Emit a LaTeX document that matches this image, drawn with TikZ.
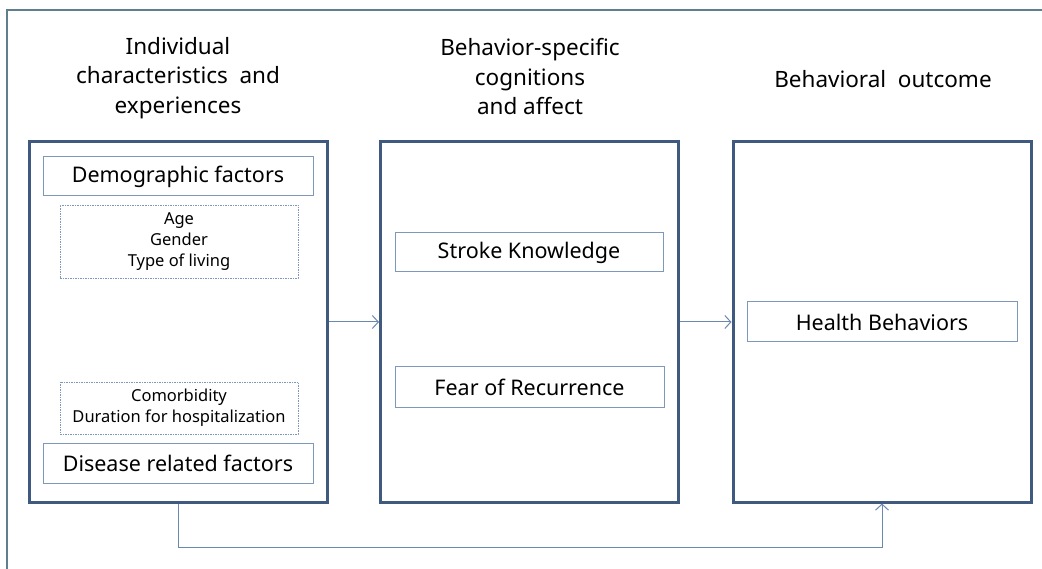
\documentclass[tikz,border=0pt]{standalone}
\usepackage{fontspec}
\setmainfont{Noto Sans}
\usetikzlibrary{arrows.meta}
\definecolor{thickc}{HTML}{3F5A7E}
\definecolor{thinc}{HTML}{7E98BC}
\definecolor{arrc}{HTML}{6B88B0}
\definecolor{framec}{HTML}{5F7F8F}
\tikzset{
  bigbox/.style={draw=thickc,line width=3pt,minimum width=298pt,minimum height=360pt,inner sep=0pt},
  factbox/.style={draw=thinc,line width=1pt,minimum width=270pt,minimum height=39pt,inner sep=0pt,font=\fontsize{21.5}{24}\selectfont},
  dashbox/.style={draw=thinc,line width=0.8pt,dash pattern=on 1.5pt off 1pt,minimum width=238pt,inner sep=0pt,align=center,font=\fontsize{16.5}{21}\selectfont},
  head/.style={align=center,font=\fontsize{22.5}{29.5}\selectfont},
  arr/.style={draw=arrc,line width=1pt,-{Straight Barb[length=6pt,width=13pt,line width=1pt]}}
}
\begin{document}
\begin{tikzpicture}[x=1pt,y=-1pt]
\useasboundingbox (0,0) rectangle (1042,569);
\fill[white] (0,0) rectangle (1042,569);
\begin{scope}
\clip (0,0) rectangle (1042,569);
\draw[framec,line width=1.2pt] (7,10) rectangle (1060,580);
\end{scope}
% headings
\node[head] (h1) at (178,78) {Individual\\characteristics \ and\\experiences};
\node[head] (h2) at (530,77) {Behavior-specific\\cognitions\\and affect};
\node[head] (h3) at (883,79) {Behavioral \ outcome};
% big boxes
\node[bigbox] (L) at (178,322) {};
\node[bigbox] (M) at (529.5,322) {};
\node[bigbox] (R) at (882,322) {};
% inner boxes
\node[factbox] (demo) at (178,176.5) {Demographic factors};
\node[dashbox,minimum height=73pt] (age) at (179,241.5) {Age\\Gender\\Type of living};
\node[dashbox,minimum height=52pt] (com) at (179,408) {Comorbidity\\Duration for hospitalization};
\node[factbox,minimum height=40pt] (dis) at (178,463) {Disease related factors};
\node[factbox,minimum width=268pt] (sk) at (529,252.5) {Stroke Knowledge};
\node[factbox,minimum width=269pt,minimum height=40pt] (fr) at (529.5,387) {Fear of Recurrence};
\node[factbox,minimum height=40pt] (hb) at (882,322) {Health Behaviors};
% connectors
\draw[arr] (L.east) -- (M.west);
\draw[arr] (M.east) -- (R.west);
\draw[arr] (L.south) -- ++(0,44) -| (R.south);
\end{tikzpicture}
\end{document}
